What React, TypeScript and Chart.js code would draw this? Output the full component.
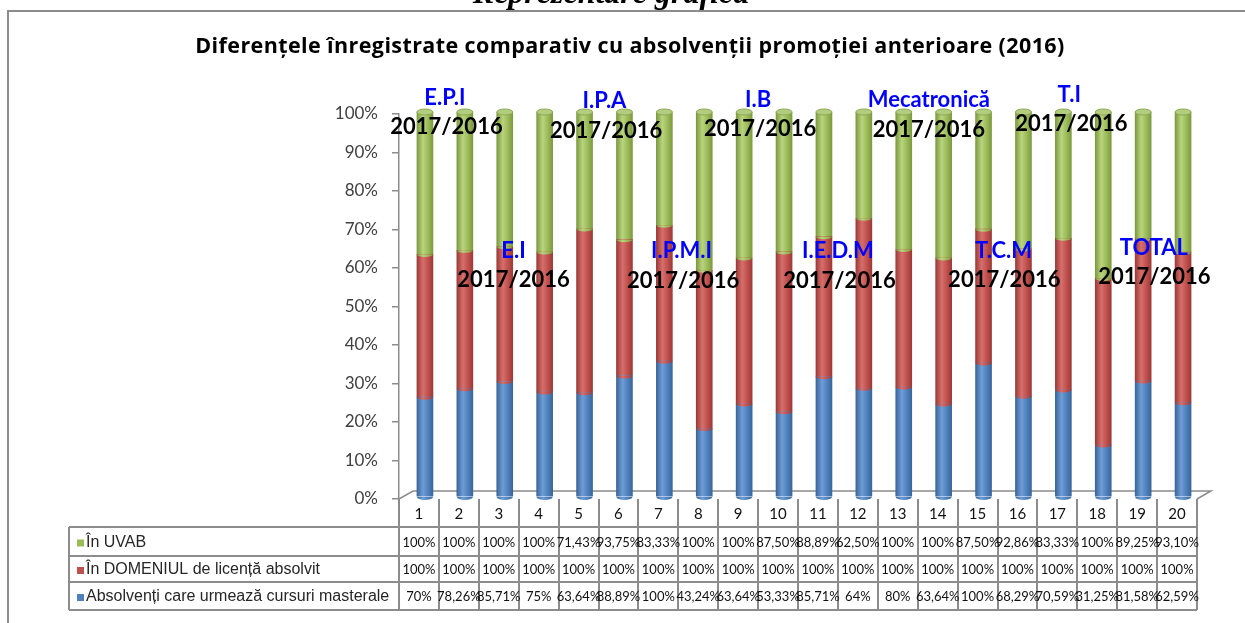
import React, { useEffect, useRef } from "react";
import { Chart, registerables } from "chart.js";

Chart.register(...registerables);

// ---------------- data ----------------
const categories = ["1", "2", "3", "4", "5", "6", "7", "8", "9", "10", "11", "12", "13", "14", "15", "16", "17", "18", "19", "20"];
const inUvab = [100, 100, 100, 100, 71.43, 93.75, 83.33, 100, 100, 87.5, 88.89, 62.5, 100, 100, 87.5, 92.86, 83.33, 100, 89.25, 93.1];
const inDomeniul = [100, 100, 100, 100, 100, 100, 100, 100, 100, 100, 100, 100, 100, 100, 100, 100, 100, 100, 100, 100];
const masterale = [70, 78.26, 85.71, 75, 63.64, 88.89, 100, 43.24, 63.64, 53.33, 85.71, 64, 80, 63.64, 100, 68.29, 70.59, 31.25, 81.58, 62.59];
const seriesNames = ["În UVAB", "În DOMENIUL de licență absolvit", "Absolvenți care urmează cursuri masterale"];
const chartTitle = "Diferențele înregistrate comparativ cu absolvenții promoției anterioare (2016)";
const pageHeading = "Reprezentare grafică";

const groupLabels = ["E.P.I", "E.I", "I.P.A", "I.P.M.I", "I.B", "I.E.D.M", "Mecatronică", "T.C.M", "T.I", "TOTAL"];
const groupLabelX = [0.65, 2.37, 4.65, 6.58, 8.5, 10.5, 12.78, 14.65, 16.3, 18.42];
const groupLabelY = [104.3, 64.5, 103.4, 64.4, 103.6, 64.4, 103.6, 64.4, 104.9, 65.2];
const periodLabel = "2017/2016";
const periodX = [0.69, 2.37, 4.69, 6.62, 8.55, 10.54, 12.78, 14.67, 16.35, 18.43];
const periodY = [96.6, 56.9, 95.6, 56.6, 96.1, 56.6, 95.8, 56.9, 97.4, 57.8];

// ---------------- derived ----------------
const totals = categories.map((_, i) => inUvab[i] + inDomeniul[i] + masterale[i]);
const shareMasterale = masterale.map((v, i) => (v / totals[i]) * 100);
const shareDomeniul = inDomeniul.map((v, i) => (v / totals[i]) * 100);
const shareUvab = inUvab.map((v, i) => (v / totals[i]) * 100);

const fmt = (v: number) => (Number.isInteger(v) ? String(v) : v.toFixed(2).replace(".", ",")) + "%";

// colours: [base, light, dark]
const GREEN = ["#9BBB59", "#B9D47E", "#7C9A40"];
const RED = ["#C0504D", "#D66F6C", "#9C3A37"];
const BLUE = ["#4F81BD", "#6E9CD6", "#3A6699"];

const HALF = 8; // half bar width
const SHIFT_X = 6;
const SHIFT_Y = -2;

function cylGrad(ctx: CanvasRenderingContext2D, x: number, c: string[]) {
  const g = ctx.createLinearGradient(x - HALF, 0, x + HALF, 0);
  g.addColorStop(0, c[2]);
  g.addColorStop(0.38, c[1]);
  g.addColorStop(0.7, c[0]);
  g.addColorStop(1, c[2]);
  return g;
}

function bgFor(c: string[]) {
  return (context: any) => {
    const chart = context.chart;
    const xs = chart.scales && chart.scales.x;
    if (!xs || context.dataIndex == null) return c[0];
    const x = xs.getPixelForValue(context.dataIndex);
    if (!isFinite(x)) return c[0];
    return cylGrad(chart.ctx, x, c);
  };
}

const decorPlugin = {
  id: "decor",
  beforeDraw(chart: any) {
    const ctx: CanvasRenderingContext2D = chart.ctx;
    ctx.save();
    ctx.fillStyle = "#ffffff";
    ctx.fillRect(0, 0, chart.width, chart.height);
    // heading (cut off at top)
    ctx.fillStyle = "#000";
    ctx.font = 'italic bold 32px "Liberation Serif"';
    ctx.textAlign = "center";
    ctx.textBaseline = "alphabetic";
    ctx.fillText(pageHeading, 611, 3);
    // outer frame
    ctx.strokeStyle = "#8c8c8c";
    ctx.lineWidth = 2;
    ctx.beginPath();
    ctx.moveTo(8, chart.height);
    ctx.lineTo(8, 11);
    ctx.lineTo(chart.width, 11);
    ctx.stroke();
    // title
    ctx.fillStyle = "#000";
    ctx.font = 'bold 21.5px "Open Sans"';
    (ctx as any).letterSpacing = "0.4px";
    ctx.textBaseline = "middle";
    ctx.fillText(chartTitle, 630, 47);
    (ctx as any).letterSpacing = "0px";
    ctx.restore();
  },
  beforeDatasetsDraw(chart: any) {
    const ctx: CanvasRenderingContext2D = chart.ctx;
    const { left, right, bottom } = chart.chartArea;
    ctx.save();
    ctx.strokeStyle = "#8c8c8c";
    ctx.lineWidth = 1.5;
    ctx.beginPath();
    ctx.moveTo(left, bottom);
    ctx.lineTo(left + 14, bottom - 8);
    ctx.lineTo(right + 14, bottom - 8);
    ctx.lineTo(right, bottom);
    ctx.stroke();
    ctx.restore();
    ctx.save();
    ctx.translate(SHIFT_X, SHIFT_Y);
  },
  afterDatasetsDraw(chart: any) {
    const ctx: CanvasRenderingContext2D = chart.ctx;
    const xs = chart.scales.x;
    const ys = chart.scales.y;
    for (let i = 0; i < categories.length; i++) {
      const x = xs.getPixelForValue(i);
      const y0 = ys.getPixelForValue(0);
      const y1 = ys.getPixelForValue(shareMasterale[i]);
      const y2 = ys.getPixelForValue(shareMasterale[i] + shareDomeniul[i]);
      const y3 = ys.getPixelForValue(100);
      ctx.fillStyle = cylGrad(ctx, x, BLUE);
      ctx.beginPath();
      ctx.ellipse(x, y0, HALF, 3, 0, 0, Math.PI);
      ctx.fill();
      ctx.fillStyle = cylGrad(ctx, x, RED);
      ctx.beginPath();
      ctx.ellipse(x, y1, HALF, 2.5, 0, 0, Math.PI);
      ctx.fill();
      ctx.fillStyle = cylGrad(ctx, x, GREEN);
      ctx.beginPath();
      ctx.ellipse(x, y2, HALF, 2.5, 0, 0, Math.PI);
      ctx.fill();
      ctx.fillStyle = "#B3CD80";
      ctx.strokeStyle = "#8DAA52";
      ctx.lineWidth = 1;
      ctx.beginPath();
      ctx.ellipse(x, y3, HALF, 3, 0, 0, Math.PI * 2);
      ctx.fill();
      ctx.stroke();
    }
    ctx.restore();
  },
  afterDraw(chart: any) {
    const ctx: CanvasRenderingContext2D = chart.ctx;
    const xs = chart.scales.x;
    const ys = chart.scales.y;
    const { left, right, bottom } = chart.chartArea;
    const n = categories.length;
    const colW = (right - left) / n;
    const tableLeft = 69;
    const rowLines = [527, 556, 582, 610];
    ctx.save();
    ctx.strokeStyle = "#8c8c8c";
    ctx.lineWidth = 2;
    ctx.beginPath();
    for (let k = 0; k <= n; k++) {
      const x = Math.round(left + k * colW);
      ctx.moveTo(x, bottom);
      ctx.lineTo(x, rowLines[3]);
    }
    for (const y of rowLines) {
      ctx.moveTo(tableLeft, y);
      ctx.lineTo(right, y);
    }
    ctx.moveTo(tableLeft, rowLines[0]);
    ctx.lineTo(tableLeft, rowLines[3]);
    ctx.stroke();

    ctx.fillStyle = "#111";
    ctx.textAlign = "center";
    ctx.textBaseline = "middle";
    ctx.font = '15px "Lato"';
    for (let i = 0; i < n; i++) {
      ctx.fillText(categories[i], left + (i + 0.5) * colW, (bottom + rowLines[0]) / 2 + 1);
    }
    const rows = [inUvab, inDomeniul, masterale];
    const colors = [GREEN[0], RED[0], BLUE[0]];
    ctx.font = '13px "Lato"';
    for (let r = 0; r < 3; r++) {
      const yc = (rowLines[r] + rowLines[r + 1]) / 2 + 1;
      for (let i = 0; i < n; i++) {
        ctx.fillText(fmt(rows[r][i]), left + (i + 0.5) * colW, yc);
      }
    }
    ctx.textAlign = "left";
    ctx.font = '16px "Liberation Sans"';
    for (let r = 0; r < 3; r++) {
      const yc = (rowLines[r] + rowLines[r + 1]) / 2 + 1;
      ctx.fillStyle = colors[r];
      ctx.fillRect(77, yc - 3, 7, 7);
      ctx.fillStyle = "#262626";
      ctx.fillText(seriesNames[r], 86, yc);
    }

    ctx.textAlign = "center";
    ctx.textBaseline = "middle";
    for (let k = 0; k < groupLabels.length; k++) {
      ctx.fillStyle = "#0000FF";
      ctx.font = 'bold 22px "Lato"';
      ctx.fillText(groupLabels[k], xs.getPixelForValue(groupLabelX[k]), ys.getPixelForValue(groupLabelY[k]));
      ctx.fillStyle = "#000";
      ctx.font = 'bold 22px "Lato"';
      ctx.fillText(periodLabel, xs.getPixelForValue(periodX[k]), ys.getPixelForValue(periodY[k]));
    }
    ctx.restore();
  },
};

export default function App() {
  const ref = useRef<HTMLCanvasElement | null>(null);
  useEffect(() => {
    if (!ref.current) return;
    const chart = new Chart(ref.current, {
      type: "bar",
      data: {
        labels: categories,
        datasets: [
          { label: seriesNames[2], data: shareMasterale, backgroundColor: bgFor(BLUE) as any },
          { label: seriesNames[1], data: shareDomeniul, backgroundColor: bgFor(RED) as any },
          { label: seriesNames[0], data: shareUvab, backgroundColor: bgFor(GREEN) as any },
        ],
      },
      options: {
        responsive: false,
        animation: false,
        devicePixelRatio: 1,
        barThickness: 16,
        layout: { padding: { top: 114, bottom: 124, left: 0, right: 48 } },
        plugins: { legend: { display: false }, tooltip: { enabled: false }, title: { display: false } },
        scales: {
          x: { stacked: true, display: false },
          y: {
            stacked: true,
            min: 0,
            max: 100,
            afterFit: (s: any) => {
              s.width = 399;
            },
            ticks: {
              stepSize: 10,
              callback: (v: any) => v + "%",
              color: "#404040",
              font: { family: "Lato", size: 17 },
              padding: 14,
            },
            grid: { drawOnChartArea: false, tickLength: 7, color: "#8c8c8c", lineWidth: 1.5 },
            border: { color: "#8c8c8c", width: 1.5 },
          },
        },
      } as any,
      plugins: [decorPlugin],
    });
    return () => chart.destroy();
  }, []);
  return (
    <div style={{ position: "absolute", left: 0, top: 0, width: 1245, height: 623, overflow: "hidden", background: "#fff" }}>
      <canvas ref={ref} width={1245} height={623} style={{ display: "block" }} />
    </div>
  );
}
